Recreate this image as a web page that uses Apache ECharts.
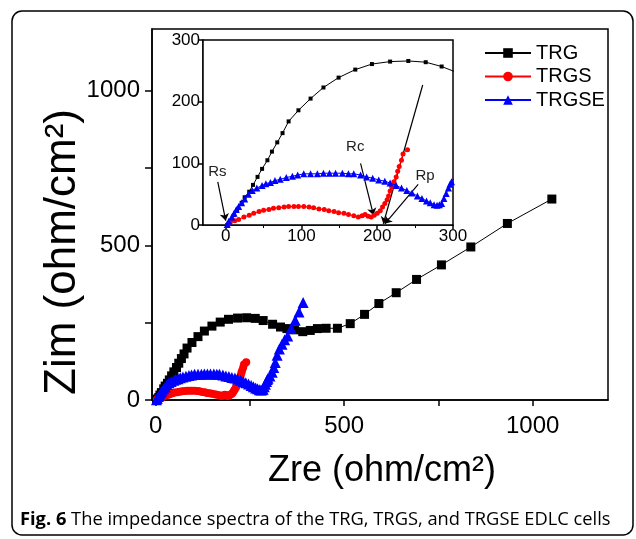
<!DOCTYPE html>
<html>
<head>
<meta charset="utf-8">
<script src="https://cdn.jsdelivr.net/npm/echarts@6/dist/echarts.min.js"></script>
<style>html,body{margin:0;padding:0;background:#fff}#c{width:636px;height:539px}</style>
</head>
<body>
<div id="c"></div>
<script>
// ---- data ----
var seriesNames = ['TRG', 'TRGS', 'TRGSE'];
var trgX = [2,4,8,11,15,21,25,31,36,42,48,55,61,68,75,83,96,112,129,149,171,193,217,241,264,285,310,331,348,368,390,410,429,452,482,516,554,592,638,692,758,836,933,1051];
var trgY = [0,3,8,16,24,36,45,54,65,78,91,105,119,134,149,168,186,205,223,239,252,261,265,266,264,257,245,236,231,227,221,225,231,232,232,247,277,312,347,390,437,495,571,650];
var trgsX = [3,6,12,17,24,31,37,44,50,57,63,70,77,83,90,96,103,110,116,123,130,136,143,149,156,162,169,175,180,184,188,192,196,200,204,207,210,213,215,217,219,222,225,227,229,232,234,240];
var trgsY = [1,4,7,9,13,16,19,22,24,25,27,28,29,30,30,30,30,29,28,26,25,23,22,20,19,17,15,13,15,17,14,13,16,19,23,29,35,41,47,55,62,70,78,87,95,105,115,122];
var trgseX = [2,4,8,11,14,17,21,25,30,35,41,48,53,59,65,72,80,88,95,103,112,121,129,137,145,154,162,169,178,186,194,202,210,217,225,232,239,246,253,259,265,270,275,279,282,285,288,291,294,296,298,303,309,313,317,322,328,335,342,350,359,370,380,391];
var trgseY = [1,6,13,19,25,30,36,42,50,56,60,64,67,69,72,74,77,79,81,83,83,83,84,84,84,84,83,83,81,78,76,73,71,68,64,60,56,52,47,43,39,36,33,32,33,35,43,51,60,66,70,78,90,105,121,145,165,180,195,207,231,258,285,315];

var mainXTicks = [0,250,500,750,1000];
var mainXLabels = [0,500,1000];
var mainYTicks = [0,250,500,750,1000];
var mainYLabels = [0,500,1000];
var insetTicks = [0,100,200,300];
var insetMinorTicks = [50,150,250];

var annoNames = ['Rs','Rc','Rp'];
var annoLabelXY = [[-11,86],[171,127],[263,79]];
var arrowStart = [[-10.5,70],[178,100],[254,66],[260,227]];
var arrowEnd = [[0,7],[195,16],[210,2],[208,2]];

var xTitle = 'Zre (ohm/cm\u00B2)';
var yTitle = 'Zim (ohm/cm\u00B2)';
var caption = 'The impedance spectra of the TRG, TRGS, and TRGSE EDLC cells';
var captionBold = 'Fig. 6';

// ---- build ----
function zip(a, b) { return a.map(function (v, i) { return [v, b[i]]; }); }
function plain(v) { return String(v); }
var FF = 'Liberation Sans, Arial, sans-serif';
var colors = ['#000000', '#ff0000', '#0000ff'];
var symbols = ['rect', 'circle', 'triangle'];
var mainSizes = [9, 8, 11];
var insetSizes = [4, 5, 7];
var datas = [zip(trgX, trgY), zip(trgsX, trgsY), zip(trgseX, trgseY)];

var series = [];
for (var i = 0; i < 3; i++) {
  series.push({
    name: seriesNames[i], type: 'line', xAxisIndex: 0, yAxisIndex: 0,
    data: datas[i], symbol: symbols[i], symbolSize: mainSizes[i],
    itemStyle: { color: colors[i] }, lineStyle: { color: colors[i], width: 1 },
    animation: false, z: 2 + i
  });
}
for (var j = 0; j < 3; j++) {
  var s = {
    name: seriesNames[j], type: 'line', xAxisIndex: 1, yAxisIndex: 1,
    data: datas[j], symbol: symbols[j], symbolSize: insetSizes[j],
    itemStyle: { color: colors[j] }, lineStyle: { color: colors[j], width: 1 },
    animation: false, z: 10 + j, clip: true
  };
  if (j === 0) {
    s.markLine = {
      silent: true, animation: false, symbol: ['none', 'arrow'], symbolSize: 7,
      lineStyle: { color: '#000', width: 1.2, type: 'solid' }, label: { show: false },
      data: arrowStart.map(function (p, k) { return [{ coord: p }, { coord: arrowEnd[k] }]; })
    };
    s.markPoint = {
      silent: true, animation: false, symbol: 'circle', symbolSize: 1,
      itemStyle: { color: 'rgba(0,0,0,0)' },
      label: { show: true, position: 'inside', formatter: '{b}', color: '#222', fontSize: 15, fontFamily: FF },
      data: annoNames.map(function (n, k) { return { name: n, coord: annoLabelXY[k] }; })
    };
  }
  series.push(s);
}

var axisLineStyle = { color: '#000', width: 1.5 };
var option = {
  backgroundColor: '#fff',
  animation: false,
  grid: [
    { left: 152, top: 29, width: 456, height: 371, show: true, borderColor: '#000', borderWidth: 1.5, backgroundColor: 'transparent' },
    { left: 203, top: 40, width: 250, height: 185, show: true, borderColor: '#000', borderWidth: 1.5, backgroundColor: '#fff', z: 5 }
  ],
  legend: {
    data: seriesNames, orient: 'vertical', left: 479, top: 38,
    itemWidth: 46, itemHeight: 12, itemGap: 3.5,
    textStyle: { fontSize: 20, lineHeight: 20, color: '#000', fontFamily: FF },
    selectedMode: false
  },
  xAxis: [
    { gridIndex: 0, type: 'value', min: -10, max: 1200,
      axisLine: { onZero: false, lineStyle: axisLineStyle },
      axisTick: { customValues: mainXTicks, length: 6, lineStyle: axisLineStyle },
      axisLabel: { customValues: mainXLabels, formatter: plain, fontSize: 24, color: '#000', margin: 14, fontFamily: FF },
      splitLine: { show: false } },
    { gridIndex: 1, type: 'value', min: -30, max: 300,
      axisLine: { onZero: false, lineStyle: axisLineStyle },
      axisTick: { customValues: insetTicks, length: 4, lineStyle: axisLineStyle },
      axisLabel: { customValues: insetTicks, formatter: plain, fontSize: 17, color: '#000', margin: 3, fontFamily: FF },
      splitLine: { show: false } },
    { gridIndex: 1, type: 'value', min: -30, max: 300,
      axisLine: { show: false },
      axisTick: { customValues: insetMinorTicks, length: 3, inside: true, lineStyle: { color: '#000', width: 1 } },
      axisLabel: { show: false }, splitLine: { show: false } }
  ],
  yAxis: [
    { gridIndex: 0, type: 'value', min: 0, max: 1200,
      axisLine: { show: true, onZero: false, lineStyle: axisLineStyle },
      axisTick: { show: true, customValues: mainYTicks, length: 7, lineStyle: axisLineStyle },
      axisLabel: { customValues: mainYLabels, formatter: plain, fontSize: 24, color: '#000', margin: 12, fontFamily: FF },
      splitLine: { show: false } },
    { gridIndex: 1, type: 'value', min: 0, max: 300,
      axisLine: { show: true, onZero: false, lineStyle: axisLineStyle },
      axisTick: { show: true, customValues: insetTicks, length: 4, lineStyle: axisLineStyle },
      axisLabel: { customValues: insetTicks, formatter: plain, fontSize: 17, color: '#000', margin: 3, fontFamily: FF },
      splitLine: { show: false } },
    { gridIndex: 1, type: 'value', min: 0, max: 300,
      axisLine: { show: false },
      axisTick: { show: true, customValues: insetMinorTicks, length: 3, inside: true, lineStyle: { color: '#000', width: 1 } },
      axisLabel: { show: false }, splitLine: { show: false } }
  ],
  series: series,
  graphic: [
    { type: 'rect', shape: { x: 12, y: 11, width: 621, height: 524, r: 10 },
      style: { fill: 'none', stroke: '#000', lineWidth: 1.5 }, z: 100, silent: true },
    { type: 'text', x: 382, y: 471, z: 100, silent: true,
      style: { text: xTitle, fontSize: 36, fontFamily: FF, fill: '#000', align: 'center', verticalAlign: 'middle' } },
    { type: 'text', x: 63, y: 252, rotation: Math.PI / 2, z: 100, silent: true,
      style: { text: yTitle, fontSize: 44, fontFamily: FF, fill: '#000', align: 'center', verticalAlign: 'middle' } },
    { type: 'text', x: 20, y: 520, z: 100, silent: true,
      style: { text: '{b|' + captionBold + '} ' + caption, fontSize: 18.3, fontFamily: 'Open Sans', fill: '#000',
        verticalAlign: 'middle',
        rich: { b: { fontSize: 18.3, fontFamily: 'Open Sans', fontWeight: 'bold', fill: '#000' } } } }
  ]
};
var chart = echarts.init(document.getElementById('c'), null, { renderer: 'canvas' });
chart.setOption(option);
</script>
</body>
</html>
